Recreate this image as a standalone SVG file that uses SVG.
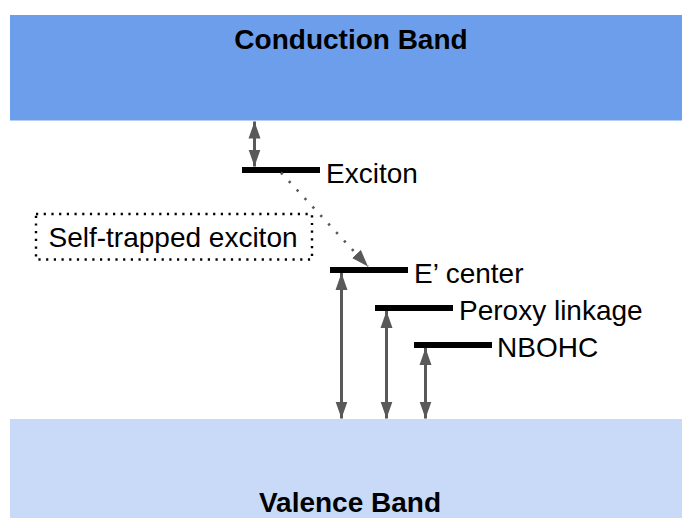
<svg xmlns="http://www.w3.org/2000/svg" width="682" height="518" viewBox="0 0 682 518">
  <style>
    .band-label { font-family: "Liberation Sans", Arial, sans-serif; font-weight: bold; font-size: 28px; fill: #000; text-anchor: middle; }
    .label { font-family: "Liberation Sans", Arial, sans-serif; font-size: 28px; fill: #000; }
    .level { fill: #000; }
    .arrow { stroke: #595959; stroke-width: 3; fill: none; marker-start: url(#head); marker-end: url(#head); }
    .dotted-arrow { stroke: #595959; stroke-width: 2.6; fill: none; stroke-dasharray: 2.4 9.2; marker-end: url(#head); }
  </style>
  <defs>
    <marker id="head" markerUnits="userSpaceOnUse" markerWidth="18" markerHeight="13" refX="17" refY="6.5" orient="auto-start-reverse" viewBox="0 0 18 13">
      <path d="M0,0.5 L17,6.5 L0,12.5 z" fill="#595959"/>
    </marker>
  </defs>

  <rect width="682" height="518" fill="#fff"/>

  <g id="conduction-band">
    <rect x="10" y="15" width="672" height="105.5" fill="#6d9eeb"/>
    <text class="band-label" x="351" y="49">Conduction Band</text>
  </g>

  <g id="valence-band">
    <rect x="10" y="419" width="672" height="99" fill="#c9daf8"/>
    <text class="band-label" x="350" y="512">Valence Band</text>
  </g>

  <g id="exciton">
    <rect class="level" x="242" y="167" width="78" height="6"/>
    <text class="label" x="326" y="183">Exciton</text>
  </g>

  <g id="self-trapped-exciton">
    <rect x="36" y="214" width="276" height="45.5" fill="none" stroke="#000" stroke-width="2.4" stroke-dasharray="2.2 5.5"/>
    <text class="label" x="48.5" y="246.5">Self-trapped exciton</text>
  </g>

  <g id="e-center">
    <rect class="level" x="330" y="267" width="78" height="6"/>
    <text class="label" x="414" y="283">E’ center</text>
  </g>

  <g id="peroxy-linkage">
    <rect class="level" x="375" y="305" width="78" height="6"/>
    <text class="label" x="459" y="320">Peroxy linkage</text>
  </g>

  <g id="nbohc">
    <rect class="level" x="414" y="342" width="78" height="6"/>
    <text class="label" x="497" y="357">NBOHC</text>
  </g>

  <g id="connectors">
    <line class="arrow" x1="254.5" y1="121.5" x2="254.5" y2="166.5"/>
    <line class="dotted-arrow" x1="281" y1="172.5" x2="368" y2="266.5"/>
    <line class="arrow" x1="341.5" y1="273" x2="341.5" y2="418.5"/>
    <line class="arrow" x1="386.5" y1="311" x2="386.5" y2="418.5"/>
    <line class="arrow" x1="425.5" y1="348" x2="425.5" y2="418.5"/>
  </g>
</svg>
